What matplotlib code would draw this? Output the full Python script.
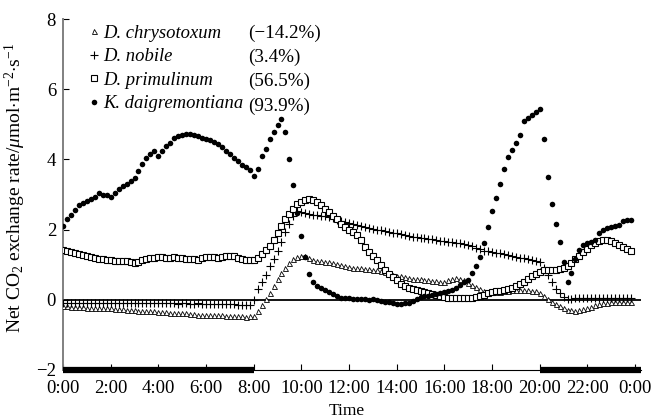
import numpy as np
import matplotlib
matplotlib.use("Agg")
import matplotlib.pyplot as plt
from matplotlib.lines import Line2D

plt.rcParams["font.family"] = ["Liberation Serif", "DejaVu Serif"]
plt.rcParams["mathtext.fontset"] = "custom"
plt.rcParams["mathtext.rm"] = "Liberation Serif"
plt.rcParams["mathtext.it"] = "Liberation Serif:italic"

# time of day in hours, one reading every 10 min (0:00 .. 23:50)
hours = np.arange(144) / 6.0

d_chrysotoxum = [
    -0.18, -0.19, -0.20, -0.20, -0.21, -0.21, -0.22, -0.22, -0.23, -0.23, -0.23, -0.24,
    -0.24, -0.25, -0.26, -0.27, -0.28, -0.29, -0.30, -0.31, -0.31, -0.32, -0.32, -0.33,
    -0.34, -0.35, -0.36, -0.37, -0.37, -0.38, -0.38, -0.39, -0.40, -0.41, -0.42, -0.42,
    -0.42, -0.43, -0.43, -0.44, -0.44, -0.45, -0.45, -0.46, -0.47, -0.47, -0.48, -0.47,
    -0.45, -0.33, -0.14, 0.02, 0.19, 0.40, 0.60, 0.76, 0.92, 1.06, 1.16, 1.22,
    1.26, 1.24, 1.18, 1.13, 1.11, 1.10, 1.08, 1.07, 1.05, 1.03, 1.00, 0.96,
    0.94, 0.92, 0.91, 0.90, 0.89, 0.87, 0.86, 0.84, 0.81, 0.78, 0.75, 0.72,
    0.69, 0.67, 0.64, 0.62, 0.60, 0.59, 0.58, 0.57, 0.56, 0.54, 0.53, 0.52,
    0.52, 0.55, 0.59, 0.62, 0.60, 0.55, 0.48, 0.42, 0.36, 0.31, 0.25, 0.21,
    0.21, 0.22, 0.23, 0.24, 0.26, 0.28, 0.29, 0.29, 0.29, 0.28, 0.26, 0.24,
    0.20, 0.12, 0.03, -0.05, -0.12, -0.19, -0.24, -0.28, -0.30, -0.31, -0.30, -0.27,
    -0.24, -0.20, -0.16, -0.13, -0.10, -0.08, -0.07, -0.06, -0.06, -0.05, -0.05, -0.05,
]

d_nobile = [
    -0.08, -0.08, -0.09, -0.08, -0.09, -0.09, -0.08, -0.09, -0.09, -0.08, -0.09, -0.09,
    -0.09, -0.08, -0.09, -0.09, -0.09, -0.10, -0.09, -0.09, -0.10, -0.09, -0.10, -0.10,
    -0.10, -0.09, -0.10, -0.10, -0.10, -0.11, -0.10, -0.10, -0.11, -0.11, -0.10, -0.11,
    -0.11, -0.12, -0.11, -0.12, -0.12, -0.12, -0.13, -0.13, -0.14, -0.14, -0.15, -0.15,
    0.00, 0.30, 0.52, 0.72, 0.95, 1.16, 1.40, 1.65, 1.92, 2.15, 2.38, 2.52,
    2.50, 2.48, 2.45, 2.43, 2.41, 2.40, 2.38, 2.36, 2.32, 2.28, 2.24, 2.22,
    2.19, 2.16, 2.12, 2.10, 2.08, 2.05, 2.03, 2.00, 1.98, 1.96, 1.93, 1.91,
    1.89, 1.87, 1.85, 1.82, 1.80, 1.78, 1.77, 1.75, 1.73, 1.72, 1.70, 1.68,
    1.67, 1.66, 1.64, 1.63, 1.62, 1.59, 1.55, 1.52, 1.49, 1.45, 1.40, 1.38,
    1.36, 1.34, 1.32, 1.30, 1.28, 1.26, 1.23, 1.20, 1.18, 1.16, 1.14, 1.11,
    1.08, 0.90, 0.70, 0.50, 0.32, 0.19, 0.08, 0.03, 0.03, 0.04, 0.05, 0.05,
    0.06, 0.05, 0.06, 0.06, 0.05, 0.06, 0.06, 0.05, 0.06, 0.06, 0.05, 0.06,
]

d_primulinum = [
    1.43, 1.40, 1.36, 1.33, 1.30, 1.28, 1.25, 1.22, 1.20, 1.17, 1.15, 1.13,
    1.12, 1.11, 1.11, 1.11, 1.10, 1.08, 1.06, 1.08, 1.14, 1.17, 1.19, 1.20,
    1.22, 1.21, 1.20, 1.20, 1.21, 1.19, 1.18, 1.17, 1.16, 1.15, 1.14, 1.18,
    1.22, 1.22, 1.21, 1.20, 1.22, 1.24, 1.25, 1.24, 1.20, 1.16, 1.14, 1.14,
    1.14, 1.20, 1.30, 1.41, 1.52, 1.71, 1.90, 2.10, 2.29, 2.45, 2.60, 2.72,
    2.80, 2.84, 2.86, 2.84, 2.78, 2.69, 2.60, 2.50, 2.40, 2.29, 2.16, 2.06,
    2.00, 1.93, 1.86, 1.70, 1.50, 1.36, 1.26, 1.12, 0.98, 0.84, 0.74, 0.66,
    0.55, 0.46, 0.40, 0.35, 0.31, 0.28, 0.25, 0.22, 0.19, 0.16, 0.13, 0.10,
    0.07, 0.06, 0.05, 0.05, 0.05, 0.05, 0.05, 0.05, 0.07, 0.10, 0.15, 0.19,
    0.21, 0.24, 0.26, 0.29, 0.31, 0.33, 0.38, 0.45, 0.52, 0.60, 0.67, 0.74,
    0.80, 0.84, 0.86, 0.84, 0.86, 0.88, 0.92, 0.97, 1.05, 1.15, 1.25, 1.36,
    1.46, 1.56, 1.63, 1.67, 1.71, 1.71, 1.68, 1.62, 1.57, 1.50, 1.44, 1.38,
]

k_daigremontiana = [
    2.09, 2.29, 2.43, 2.57, 2.71, 2.76, 2.81, 2.86, 2.93, 3.05, 3.00, 2.98,
    2.93, 3.05, 3.15, 3.24, 3.30, 3.38, 3.48, 3.67, 3.86, 4.05, 4.15, 4.24,
    4.10, 4.24, 4.38, 4.48, 4.62, 4.66, 4.69, 4.71, 4.71, 4.69, 4.67, 4.62,
    4.57, 4.54, 4.50, 4.43, 4.35, 4.25, 4.15, 4.05, 3.95, 3.85, 3.78, 3.71,
    3.54, 3.74, 4.10, 4.29, 4.59, 4.79, 4.97, 5.14, 4.78, 4.02, 3.26, 2.46,
    1.83, 1.22, 0.73, 0.52, 0.40, 0.33, 0.27, 0.21, 0.17, 0.10, 0.06, 0.05,
    0.04, 0.02, 0.02, 0.03, 0.01, 0.00, 0.02, 0.00, -0.03, -0.05, -0.06, -0.10,
    -0.12, -0.12, -0.10, -0.08, -0.03, 0.02, 0.08, 0.10, 0.11, 0.13, 0.16, 0.19,
    0.21, 0.24, 0.28, 0.33, 0.43, 0.50, 0.57, 0.76, 0.97, 1.22, 1.62, 2.08,
    2.52, 2.90, 3.29, 3.74, 4.08, 4.27, 4.48, 4.69, 5.10, 5.18, 5.26, 5.35,
    5.43, 4.57, 3.50, 2.74, 2.16, 1.65, 1.08, 0.50, 0.76, 1.16, 1.41, 1.57,
    1.62, 1.64, 1.71, 1.90, 2.00, 2.05, 2.07, 2.10, 2.14, 2.24, 2.27, 2.27,
]

species = ["D. chrysotoxum", "D. nobile", "D. primulinum", "K. daigremontiana"]
percents = ["(\u221214.2%)", "(3.4%)", "(56.5%)", "(93.9%)"]
dark_periods = [(0, 8), (20, 24.25)]

xtick_pos = list(range(0, 25, 2))
xtick_labels = ["0:00", "2:00", "4:00", "6:00", "8:00", "10:00", "12:00",
                "14:00", "16:00", "18:00", "20:00", "22:00", "0:00"]
ytick_pos = [-2, 0, 2, 4, 6, 8]
ytick_labels = ["\u22122", "0", "2", "4", "6", "8"]

fig = plt.figure(figsize=(6.52, 4.18), dpi=100)
ax = fig.add_axes([63 / 652, 48 / 418, 578 / 652, 351 / 418])

styles = [
    dict(marker="^", ms=3.6, mfc="white", mec="black", mew=0.6),
    dict(marker="+", ms=5.5, mec="black", mew=0.8),
    dict(marker="s", ms=3.8, mfc="white", mec="black", mew=0.8),
    dict(marker="o", ms=4.0, mfc="black", mec="black", mew=0),
]
series = [d_chrysotoxum, d_nobile, d_primulinum, k_daigremontiana]

ax.axhline(0, color="black", lw=1.3, zorder=1)
for vals, st in zip(series, styles):
    ax.plot(hours, vals, ls="none", zorder=3, **st)

# dark periods drawn as thick bars on the time axis
for start, end in dark_periods:
    ax.plot([start, end], [-2, -2], color="black", lw=4.5,
            solid_capstyle="butt", clip_on=False, zorder=5)

ax.set_xlim(0, 24.25)
ax.set_ylim(-2, 8)
ax.set_xticks(xtick_pos)
ax.set_xticklabels(xtick_labels)
ax.set_yticks(ytick_pos)
ax.set_yticklabels(ytick_labels)
ax.tick_params(direction="in", length=4, width=0.8, labelsize=13.5, pad=5)
ax.tick_params(axis="x", pad=7)

ax.spines["top"].set_visible(False)
ax.spines["right"].set_visible(False)
ax.spines["left"].set_color("#808080")
ax.spines["left"].set_linewidth(1.4)
ax.spines["bottom"].set_linewidth(0.8)

ax.set_xlabel("Time", fontsize=12.5)
ax.xaxis.set_label_coords(0.491, -0.094)
ax.set_ylabel(r"Net CO$_2$ exchange rate/$\mu$mol$\cdot$m$^{-2}$$\cdot$s$^{-1}$",
              fontsize=14)
ax.yaxis.set_label_coords(-0.061, 0.52)

handles = [Line2D([], [], ls="none", **st) for st in styles]
leg1 = ax.legend(handles, species, loc="upper left", bbox_to_anchor=(0.04, 0.984),
                 frameon=False, borderpad=0, borderaxespad=0, handlelength=0.8,
                 handletextpad=0.1, labelspacing=0.35,
                 prop=dict(family="Liberation Serif", style="italic", size=13.4))
ax.add_artist(leg1)
blank = [Line2D([], [], ls="none") for _ in percents]
ax.legend(blank, percents, loc="upper left", bbox_to_anchor=(0.32, 0.984),
          frameon=False, borderpad=0, borderaxespad=0, handlelength=0,
          handletextpad=0, labelspacing=0.35,
          prop=dict(family="Liberation Serif", size=13.8))

fig.savefig("out.png", dpi=100)
